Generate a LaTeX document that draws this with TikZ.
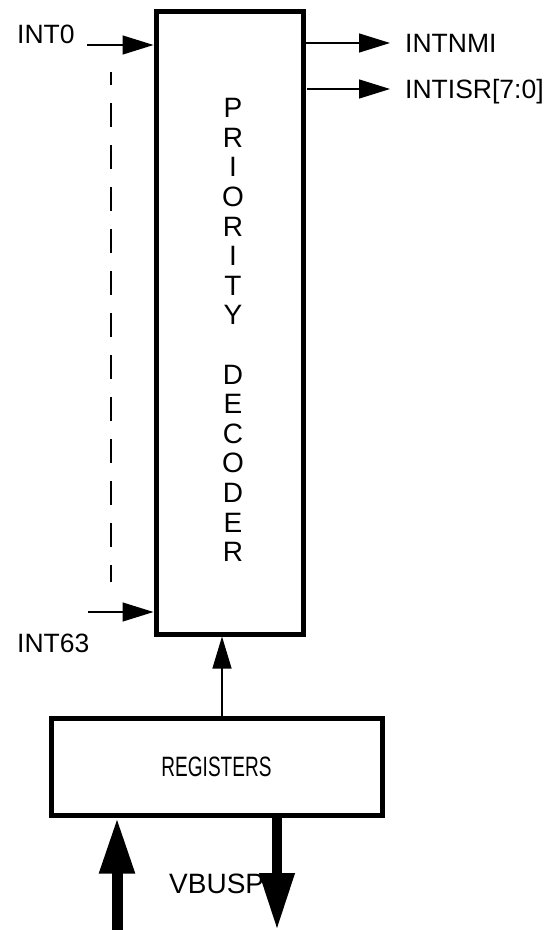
\documentclass[tikz,border=0pt]{standalone}
\usepackage{fontspec}
\setmainfont{Liberation Sans}
\usetikzlibrary{arrows.meta}
\begin{document}
\begin{tikzpicture}[x=1pt,y=-1pt,
  box/.style={draw=black,line width=5pt,inner sep=0pt},
  lbl/.style={inner sep=0pt,anchor=base west,font=\fontsize{26.5}{30}\selectfont},
  thin/.style={line width=1.3pt},
  sig/.style={thin,-{Triangle[length=31pt,width=19pt]}},
  bus/.style={line width=11pt,-{Triangle[length=56pt,width=33pt]}}]
\useasboundingbox (0,0) rectangle (546,930);
% priority decoder
\node[box,minimum width=147pt,minimum height=623pt] (dec) at (229.5,322.5) {};
\node[inner sep=0pt,align=center,font=\fontsize{28}{29.6}\selectfont] (dtext) at (233,330)
  {P\\R\\I\\O\\R\\I\\T\\Y\\[29.6pt]D\\E\\C\\O\\D\\E\\R};
% registers
\node[box,minimum width=331pt,minimum height=97pt] (reg) at (216.5,766.5)
  {\fontsize{28}{30}\selectfont\scalebox{0.68}[1]{REGISTERS}};
% inputs
\node[lbl] (int0) at (17,43) {INT0};
\node[lbl] (int63) at (17,652) {INT63};
\coordinate (i0) at (87,45);
\coordinate (i63) at (88,612);
\draw[sig] (i0) -- (i0 -| dec.west);
\draw[sig] (i63) -- (i63 -| dec.west);
\coordinate (dtop) at (111,72);
\coordinate (dbot) at (111,582);
\draw[line width=1.5pt,dash pattern=on 24pt off 18pt,dash phase=11pt] (dtop) -- (dbot);
% outputs
\node[lbl] (nmi) at (405,52) {INTNMI};
\node[lbl] (isr) at (405,98) {INTISR[7:0]};
\coordinate (o1) at (390,43);
\coordinate (o2s) at (307,89);
\coordinate (o2) at (390,89);
\draw[sig] (o1 -| dec.east) -- (o1);
\draw[sig] (o2s) -- (o2);
% registers to decoder
\coordinate (ax) at (222,0);
\draw[sig,-{Triangle[length=32pt,width=19pt]}] (reg.north -| ax) -- (dec.south -| ax);
% VBUSP
\node[lbl,font=\fontsize{28}{30}\selectfont] (vbusp) at (169,893) {VBUSP};
\coordinate (bin) at (117,930);
\coordinate (bout) at (277,930);
\draw[bus] (bin) -- (bin |- reg.south);
\draw[line width=10pt,-{Triangle[length=57pt,width=33pt]}] (bout |- reg.south) -- (bout);
\end{tikzpicture}
\end{document}
